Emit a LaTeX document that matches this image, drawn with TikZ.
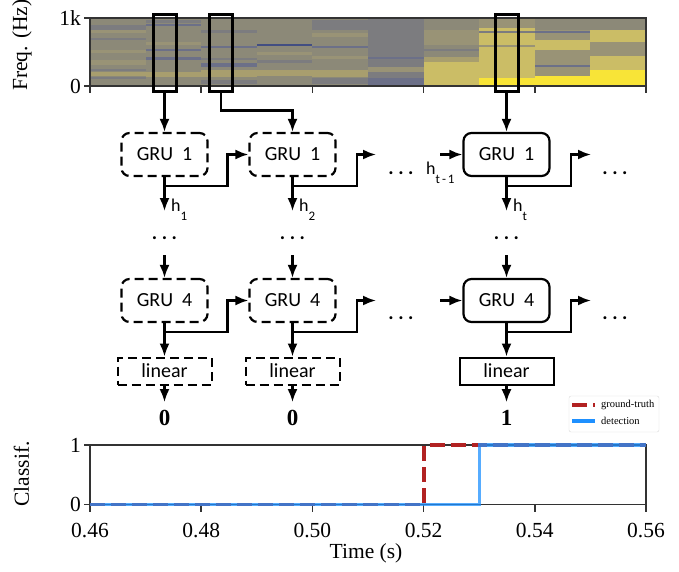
\documentclass[tikz,border=0pt]{standalone}
\usepackage{fontspec}
\setmainfont{Liberation Serif}
\newfontfamily\calibri{Carlito}
\usepackage{tikz}
\usetikzlibrary{arrows.meta,calc}
\definecolor{sgrey}{RGB}{140,137,120}
\definecolor{sgreyb}{RGB}{124,124,127}
\definecolor{sblue}{RGB}{108,112,136}
\definecolor{sdblue}{RGB}{66,78,130}
\definecolor{smyel}{RGB}{168,158,110}
\definecolor{syel}{RGB}{203,189,102}
\definecolor{slyel}{RGB}{153,147,118}
\definecolor{sbyel}{RGB}{248,228,55}
\definecolor{gtred}{RGB}{178,34,34}
\definecolor{detblue}{RGB}{30,144,255}
\newcommand{\lo}[1]{\raisebox{-9pt}{\fontsize{13}{13}\selectfont #1}}
\tikzset{
	gru/.style={draw, rounded corners=8pt, line width=2.2pt, minimum width=86pt, minimum height=43pt, font=\calibri\fontsize{20}{24}\selectfont},
	gruold/.style={gru, dash pattern=on 9pt off 5pt},
	lin/.style={draw, line width=2pt, minimum width=94pt, minimum height=27pt, font=\calibri\fontsize{20}{24}\selectfont},
	linold/.style={lin, dash pattern=on 9pt off 5pt},
	frm/.style={draw, line width=3pt, minimum width=23pt, minimum height=77pt},
	dots/.style={font=\calibri\bfseries\fontsize{20}{24}\selectfont, inner sep=0pt, anchor=base},
	lab/.style={font=\calibri\fontsize{18}{20}\selectfont, inner sep=0pt, anchor=base west},
	cls/.style={font=\bfseries\fontsize{23}{24}\selectfont, inner xsep=2pt, inner ysep=8pt},
	con/.style={-{Latex[length=13pt,width=10pt]}, line width=2.2pt},
	axis/.style={line width=1.5pt, draw=black!80},
	tick/.style={font=\fontsize{21.5}{24}\selectfont, inner sep=0pt},
	gt/.style={line width=3.5pt, gtred, dash pattern=on 15pt off 6pt},
	det/.style={line width=3.5pt, detblue, opacity=0.75}
}

\begin{document}
\begin{tikzpicture}[x=1pt, y=-1pt]
	\useasboundingbox (0,0) rectangle (679,571);
	\foreach \k/\col in {0/sgrey,1/sgrey,2/sgrey,3/sgrey,4/sgrey,5/sgreyb,6/sgrey,7/syel,8/slyel,9/syel}
		\fill[\col] (90+55.6*\k,18) rectangle (145.6+55.6*\k,86);
	\foreach \k/\ya/\yb/\col in {
		0/25/30/sgreyb, 0/30/33/slyel, 0/38/40/sgreyb, 0/50/53/slyel, 0/60/65/slyel, 0/69/71/sgreyb, 0/72/76/smyel, 0/77/79/sgreyb,
		1/20/23/sgreyb, 1/24/26/sblue, 1/42/45/slyel, 1/49/51/sblue, 1/57/60/sblue, 1/72/77/smyel,
		2/30/33/sgreyb, 2/46/48/sblue, 2/58/60/sgreyb, 2/63/67/sblue, 2/70/77/smyel, 2/80/84/sgreyb,
		3/43.5/45.5/sdblue, 3/52/55/slyel, 3/60/63/sgreyb, 3/70/76/smyel,
		4/20/30/sgreyb, 4/33/37/slyel, 4/46/48/sblue, 4/56/59/slyel, 4/70/77/smyel, 4/78/84/sgreyb,
		5/57/59/sblue, 5/67/72/slyel, 5/78/86/sblue,
		6/30/45/slyel, 6/49/51/sgreyb, 6/57/86/smyel, 6/62/86/syel,
		7/18/28/slyel, 7/31/33/sgreyb, 7/45/47/slyel, 7/78/86/sbyel,
		8/18/30/sgrey, 8/31/33/sblue, 8/40/50/syel, 8/65/67/sblue, 8/76/86/sbyel,
		9/18/30/sgrey, 9/42/56/slyel, 9/70/86/sbyel}
		\fill[\col] (90+55.6*\k,\ya) rectangle (145.6+55.6*\k,\yb);
	\draw[axis] (90,18) rectangle (646,86);
	\foreach \x in {0,...,5}
		\draw[axis] (90+111.2*\x,86) -- ++(0,7);
	\draw[axis] (90,18) -- ++(-6,0);
	\draw[axis] (90,86) -- ++(-6,0);
	\node[tick, anchor=east] (s1) at (81,18) {1k};
	\node[tick, anchor=east] (s0) at (81,86) {0};
	\node[tick, rotate=90] (fq) at (22,45) {Freq. (Hz)};

	\node[frm] (f1) at (164.5,52.5) {};
	\node[frm] (f2) at (221,52.5) {};
	\node[frm] (f3) at (506.5,52.5) {};

	\node[gruold] (g11) at (164.5,154.5) {GRU\hspace{9pt}1};
	\node[gruold] (g12) at (292.5,154.5) {GRU\hspace{9pt}1};
	\node[gru] (g13) at (506.5,154.5) {GRU\hspace{9pt}1};
	\node[gruold] (g41) at (164.5,300.5) {GRU\hspace{9pt}4};
	\node[gruold] (g42) at (292.5,300.5) {GRU\hspace{9pt}4};
	\node[gru] (g43) at (506.5,300.5) {GRU\hspace{9pt}4};
	\node[linold] (l1) at (164.5,371) {linear};
	\node[linold] (l2) at (292.5,371) {linear};
	\node[lin] (l3) at (506.5,371) {linear};
	\node[cls] (o1) at (164.5,418) {0};
	\node[cls] (o2) at (292.5,418) {0};
	\node[cls] (o3) at (506.5,418) {1};

	\draw[con] (f1.south) -- (g11.north);
	\draw[con] (f2.south) -- ++(0,18) -| (g12.north);
	\draw[con] (f3.south) -- (g13.north);

	\coordinate (h1) at (164.5,211);
	\coordinate (h2) at (292.5,211);
	\coordinate (h3) at (506.5,211);
	\draw[con] (g11.south) -- (h1);
	\draw[con] (g12.south) -- (h2);
	\draw[con] (g13.south) -- (h3);
	\node[lab] (t1) at (171,211) {h\lo{1}};
	\node[lab] (t2) at (299,211) {h\lo{2}};
	\node[lab] (t3) at (513,211) {h\lo{t}};
	\node[lab] (t0) at (426,174) {h\lo{t\hspace{2pt}-\hspace{2pt}1}};

	\coordinate (r1) at (376,154.5);
	\coordinate (r2) at (591,154.5);
	\coordinate (i1) at (440,154.5);
	\draw[con] (g11.south) ++(0,9) -| ($(g12.west)+(-21,0)$) -- (g12.west);
	\draw[con] (g12.south) ++(0,9) -| ($(r1)+(-19,0)$) -- (r1);
	\draw[con] (g13.south) ++(0,9) -| ($(r2)+(-20,0)$) -- (r2);
	\draw[con] (i1) -- (g13.west);
	\node[dots] (e1) at (401,174) {.~.~.};
	\node[dots] (e2) at (615,174) {.~.~.};

	\node[dots] (d1) at (164.5,239.5) {.~.~.};
	\node[dots] (d2) at (292.5,239.5) {.~.~.};
	\node[dots] (d3) at (506.5,239.5) {.~.~.};
	\draw[con] (d1.base) ++(0,15.5) -- (g41.north);
	\draw[con] (d2.base) ++(0,15.5) -- (g42.north);
	\draw[con] (d3.base) ++(0,15.5) -- (g43.north);

	\coordinate (r4) at (376,300.5);
	\coordinate (r5) at (591,300.5);
	\coordinate (i4) at (440,300.5);
	\draw[con] (g41.south) ++(0,9) -| ($(g42.west)+(-21,0)$) -- (g42.west);
	\draw[con] (g42.south) ++(0,9) -| ($(r4)+(-19,0)$) -- (r4);
	\draw[con] (g43.south) ++(0,9) -| ($(r5)+(-20,0)$) -- (r5);
	\draw[con] (i4) -- (g43.west);
	\node[dots] (e4) at (401,319) {.~.~.};
	\node[dots] (e5) at (615,319) {.~.~.};

	\draw[con] (g41) -- (l1);
	\draw[con] (g42) -- (l2);
	\draw[con] (g43) -- (l3);
	\draw[con] (l1) -- (o1);
	\draw[con] (l2) -- (o2);
	\draw[con] (l3) -- (o3);

	\draw[axis] (90,445) rectangle (646,504.5);
	\foreach \x/\t in {0/0.46,1/0.48,2/0.50,3/0.52,4/0.54,5/0.56} {
		\draw[axis] (90+111.2*\x,504.5) -- ++(0,7);
		\node[tick] (x\x) at (90+111.2*\x,530) {\t};
	}
	\draw[axis] (90,445) -- ++(-6,0);
	\draw[axis] (90,504.5) -- ++(-6,0);
	\node[tick, anchor=east] (c1) at (81,445) {1};
	\node[tick, anchor=east] (c0) at (81,504.5) {0};
	\node[tick] (tm) at (366,553) {Time (s)};
	\node[tick, rotate=90] (cl) at (21.5,474) {Classif.};
	\draw[gt] (90,504.5) -- (424,504.5) -- (424,445) -- (646,445);
	\draw[det] (90,504.5) -- (479.6,504.5) -- (479.6,445) -- (646,445);

	\node[draw=black!15, rounded corners=2pt, minimum width=90pt, minimum height=36pt] (lg) at (614,414) {};
	\draw[gt, line width=3.5pt] (572,405) -- (595,405);
	\draw[det, opacity=1, line width=3.5pt] (572,421) -- (595,421);
	\node[anchor=west, inner sep=0pt, font=\fontsize{10.5}{12}\selectfont] (lt) at (601,405) {ground-truth};
	\node[anchor=west, inner sep=0pt, font=\fontsize{10.5}{12}\selectfont] (ld) at (601,421) {detection};
\end{tikzpicture}
\end{document}
